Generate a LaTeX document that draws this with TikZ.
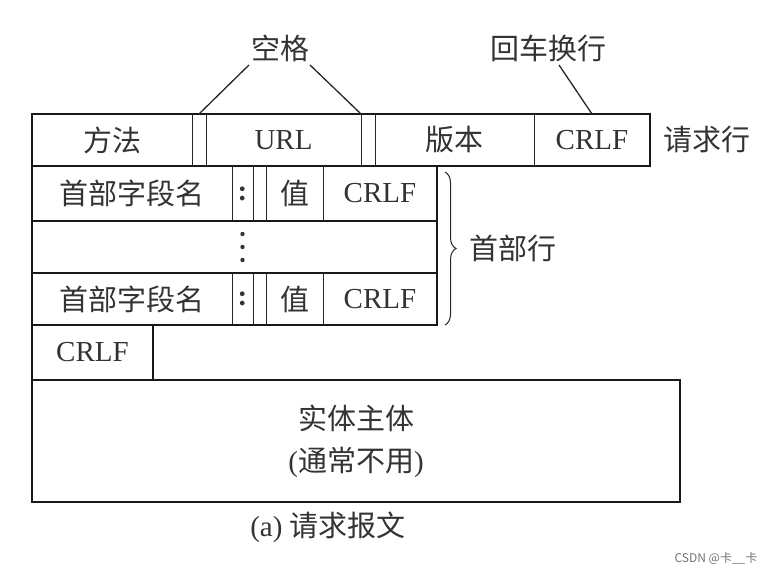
\documentclass[tikz,border=0pt]{standalone}
\usepackage{fontspec}
\setmainfont{Liberation Serif}
\newfontfamily\cjk{Noto Sans CJK SC}
\usetikzlibrary{positioning,decorations.pathreplacing}

\tikzset{
  cell/.style={draw=black!85, line width=1pt, inner sep=0pt, outer sep=0pt,
    anchor=north west, minimum height=52pt, text=black!80},
  rowbox/.style={draw=black!90, line width=2pt},
  leader/.style={draw=black!85, line width=1.3pt},
  lbl/.style={text=black!80}
}

\begin{document}
\begin{tikzpicture}[x=1pt, y=-1pt, font=\fontsize{29}{42}\selectfont]
  \useasboundingbox (0,0) rectangle (778,575);

  % Request line
  \node[cell, minimum width=160pt] (method) at (32,114) {\cjk 方法};
  \node[cell, minimum width=14pt] (sp1) at (method.north east) {};
  \node[cell, minimum width=155pt] (url) at (sp1.north east) {URL};
  \node[cell, minimum width=14pt] (sp2) at (url.north east) {};
  \node[cell, minimum width=159pt] (ver) at (sp2.north east) {\cjk 版本};
  \node[cell, minimum width=116pt] (crlf0) at (ver.north east) {CRLF};
  \draw[rowbox] (method.north west) rectangle (crlf0.south east);

  % Header lines
  \node[cell, minimum width=200pt, minimum height=55pt] (name1) at (method.south west) {\cjk 首部字段名};
  \node[cell, minimum width=21pt, minimum height=55pt] (colon1) at (name1.north east) {\textbf{:}};
  \node[cell, minimum width=13pt, minimum height=55pt] (gap1) at (colon1.north east) {};
  \node[cell, minimum width=57pt, minimum height=55pt] (val1) at (gap1.north east) {\cjk 值};
  \node[cell, minimum width=114pt, minimum height=55pt] (crlf1) at (val1.north east) {CRLF};
  \draw[rowbox] (name1.north west) rectangle (crlf1.south east);

  \node[cell, minimum width=405pt] (more) at (name1.south west) {};
  \coordinate (vd) at (colon1.center |- more.center);
  \foreach \dy in {-13,0,13}
    \fill[black!80] ([yshift=\dy pt]vd) circle (2.2pt);
  \draw[rowbox] (more.north west) rectangle (more.south east);

  \node[cell, minimum width=200pt] (name2) at (more.south west) {\cjk 首部字段名};
  \node[cell, minimum width=21pt] (colon2) at (name2.north east) {\textbf{:}};
  \node[cell, minimum width=13pt] (gap2) at (colon2.north east) {};
  \node[cell, minimum width=57pt] (val2) at (gap2.north east) {\cjk 值};
  \node[cell, minimum width=114pt] (crlf2) at (val2.north east) {CRLF};
  \draw[rowbox] (name2.north west) rectangle (crlf2.south east);

  % Empty line and body
  \node[cell, minimum width=121pt, minimum height=55pt] (crlf3) at (name2.south west) {CRLF};
  \draw[rowbox] (crlf3.north west) rectangle (crlf3.south east);
  \node[cell, minimum width=648pt, minimum height=122pt, align=center] (body) at (crlf3.south west)
    {{\cjk 实体主体}\\({\cjk 通常不用})};
  \draw[rowbox] (body.north west) rectangle (body.south east);

  % Labels
  \node[lbl] (space) at (280,48) {\cjk 空格};
  \node[lbl] (newline) at (548,48) {\cjk 回车换行};
  \node[lbl, right=10pt of crlf0] (reqline) {\cjk 请求行};
  \draw[leader] ([xshift=-31pt]space.south) -- (sp1.north);
  \draw[leader] ([xshift=30pt]space.south) -- (sp2.north west);
  \draw[leader] ([xshift=11pt]newline.south) -- (crlf0.north);

  \draw[leader, line width=1pt, decorate, decoration={brace, amplitude=11pt}]
    ([xshift=8pt,yshift=-6pt]crlf1.north east) -- ([xshift=8pt]crlf2.south east) coordinate[midway, xshift=11pt] (tip);
  \node[lbl, right=10pt of tip] (hdrlines) {\cjk 首部行};

  \node[lbl, below=6pt of body, xshift=-28pt] (caption) {(a) {\cjk 请求报文}};
  \node[text=black!55, font=\fontsize{12}{12}\selectfont\cjk] (mark) at (716,558) {CSDN @卡\_\_卡};
\end{tikzpicture}
\end{document}
